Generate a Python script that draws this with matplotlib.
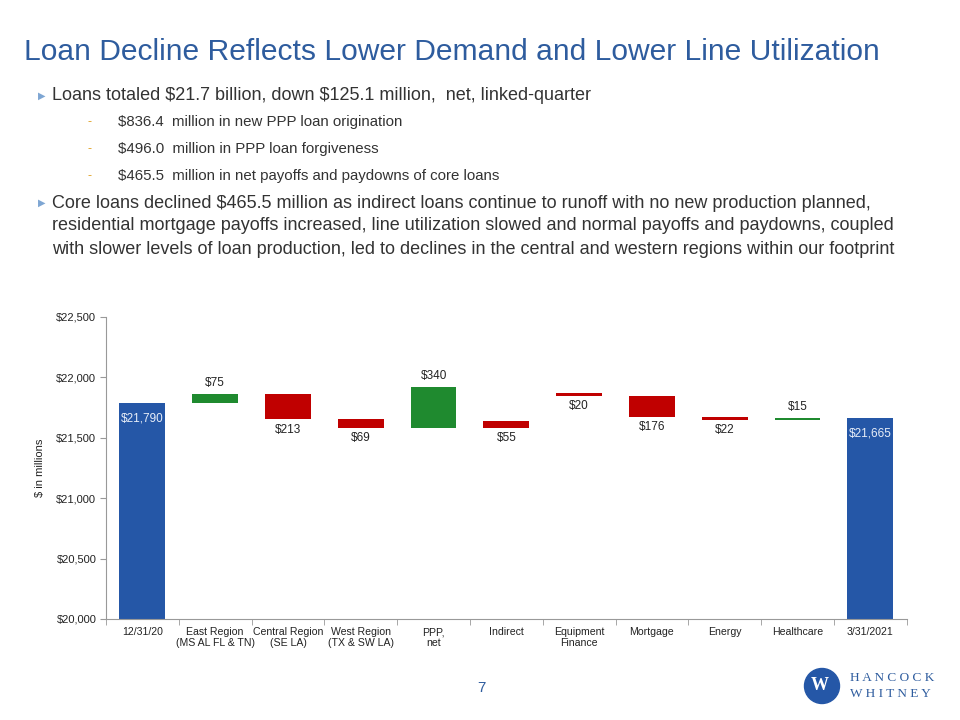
import matplotlib
matplotlib.use("Agg")
import matplotlib.pyplot as plt
from matplotlib.patches import Circle

# Data ($ in millions)
categories = ['12/31/20', 'East Region\n(MS AL FL & TN)', 'Central Region\n(SE LA)',
              'West Region\n(TX & SW LA)', 'PPP,\nnet', 'Indirect', 'Equipment\nFinance',
              'Mortgage', 'Energy', 'Healthcare', '3/31/2021']
changes = [21790, 75, -213, -69, 340, -55, -20, -176, -22, 15, 21665]
# invisible base series as drawn in the source chart (bottom of each floating bar)
bases = [0, 21790, 21652, 21583, 21583, 21583, 21848, 21672, 21650, 21650, 0]
kinds = ['total', 'up', 'down', 'down', 'up', 'down', 'down', 'down', 'down', 'up', 'total']
labels = ['$21,790', '$75', '$213', '$69', '$340', '$55', '$20', '$176', '$22', '$15', '$21,665']

title = 'Loan Decline Reflects Lower Demand and Lower Line Utilization'
bullet1 = 'Loans totaled $21.7 billion, down $125.1 million,  net, linked-quarter'
subs = ['$836.4  million in new PPP loan origination',
        '$496.0  million in PPP loan forgiveness',
        '$465.5  million in net payoffs and paydowns of core loans']
bullet2 = ['Core loans declined $465.5 million as indirect loans continue to runoff with no new production planned,',
           'residential mortgage payoffs increased, line utilization slowed and normal payoffs and paydowns, coupled',
           'with slower levels of loan production, led to declines in the central and western regions within our footprint']

colors = {'total': '#2557A7', 'up': '#1F8A2F', 'down': '#C00000'}
plt.rcParams['font.family'] = ['Liberation Sans Narrow', 'Liberation Sans', 'DejaVu Sans']
plt.rcParams['text.parse_math'] = False

fig = plt.figure(figsize=(9.6, 7.2), dpi=100)
W, H = 960, 720

def fx(px):
    return px / W

def fy(py):
    return 1 - py / H

# header text
fig.text(fx(24), fy(52), title, color='#2E5C9E', fontsize=21.6, va='center', ha='left')
fig.text(fx(38), fy(96), '\u25b6', color='#7EA6D3', fontsize=7, va='center', family=['DejaVu Sans'])
fig.text(fx(52), fy(96), bullet1, color='#333333', fontsize=13, va='center')
for i, s in enumerate(subs):
    y = 122 + 27 * i
    fig.text(fx(87), fy(y), '-', color='#E0A020', fontsize=9, va='center')
    fig.text(fx(118), fy(y), s, color='#333333', fontsize=10.8, va='center')
fig.text(fx(38), fy(203), '\u25b6', color='#7EA6D3', fontsize=7, va='center', family=['DejaVu Sans'])
for i, s in enumerate(bullet2):
    fig.text(fx(52), fy(203 + 23 * i), s, color='#333333', fontsize=13, va='center')

# chart
ax = fig.add_axes([fx(106), fy(619), fx(906.7 - 106), (619 - 317) / H])
x = list(range(len(categories)))
heights = [abs(c) for c in changes]
ax.bar(x, heights, bottom=bases, width=0.63,
       color=[colors[k] for k in kinds], zorder=2)

for xi, b, h, k, lab in zip(x, bases, heights, kinds, labels):
    if k == 'total':
        ax.annotate(lab, (xi, b + h), xytext=(0, -11), textcoords='offset points',
                    ha='center', va='center', color='#E8EEF8', fontsize=8.5)
    elif k == 'up':
        ax.annotate(lab, (xi, b + h), xytext=(0, 7.5), textcoords='offset points',
                    ha='center', va='center', color='#222222', fontsize=8.5)
    else:
        ax.annotate(lab, (xi, b), xytext=(0, -7.5), textcoords='offset points',
                    ha='center', va='center', color='#222222', fontsize=8.5)

ax.set_ylim(20000, 22500)
ax.set_xlim(-0.5, len(categories) - 0.5)
ax.set_yticks([20000, 20500, 21000, 21500, 22000, 22500])
ax.set_yticklabels(['${:,.0f}'.format(v) for v in ax.get_yticks()], fontsize=8, color='#222222')
ax.set_xticks(x)
ax.set_xticklabels(categories, fontsize=7.6, color='#222222', linespacing=1.1)
ax.set_xticks([i - 0.5 for i in range(len(categories) + 1)], minor=True)
ax.tick_params(axis='x', which='major', length=0, pad=6)
ax.tick_params(axis='x', which='minor', length=4, color='#999999')
ax.tick_params(axis='y', length=4, color='#999999', pad=3)
ax.set_ylabel('$ in millions', fontsize=8, color='#222222', labelpad=8)
for side in ['top', 'right']:
    ax.spines[side].set_visible(False)
for side in ['left', 'bottom']:
    ax.spines[side].set_color('#999999')
    ax.spines[side].set_linewidth(0.8)

# footer
fig.text(fx(481), fy(688), '7', color='#2E5C9E', fontsize=11, ha='center', va='center')
logo = fig.add_axes([fx(800), fy(706), fx(140), 40 / H])
logo.set_xlim(0, 140)
logo.set_ylim(0, 40)
logo.axis('off')
logo.add_patch(Circle((22, 20), 17.5, color='#2557A7'))
logo.text(20, 20, 'W', color='white', fontsize=13, ha='center', va='center',
          fontweight='bold', family=['Liberation Serif', 'DejaVu Serif'])
logo.text(50, 28, 'H A N C O C K', color='#2E5C9E', fontsize=9.5, va='center',
          family=['Liberation Serif', 'DejaVu Serif'])
logo.text(50, 12, 'W H I T N E Y', color='#2E5C9E', fontsize=9.5, va='center',
          family=['Liberation Serif', 'DejaVu Serif'])

fig.savefig('out.png', dpi=100)
